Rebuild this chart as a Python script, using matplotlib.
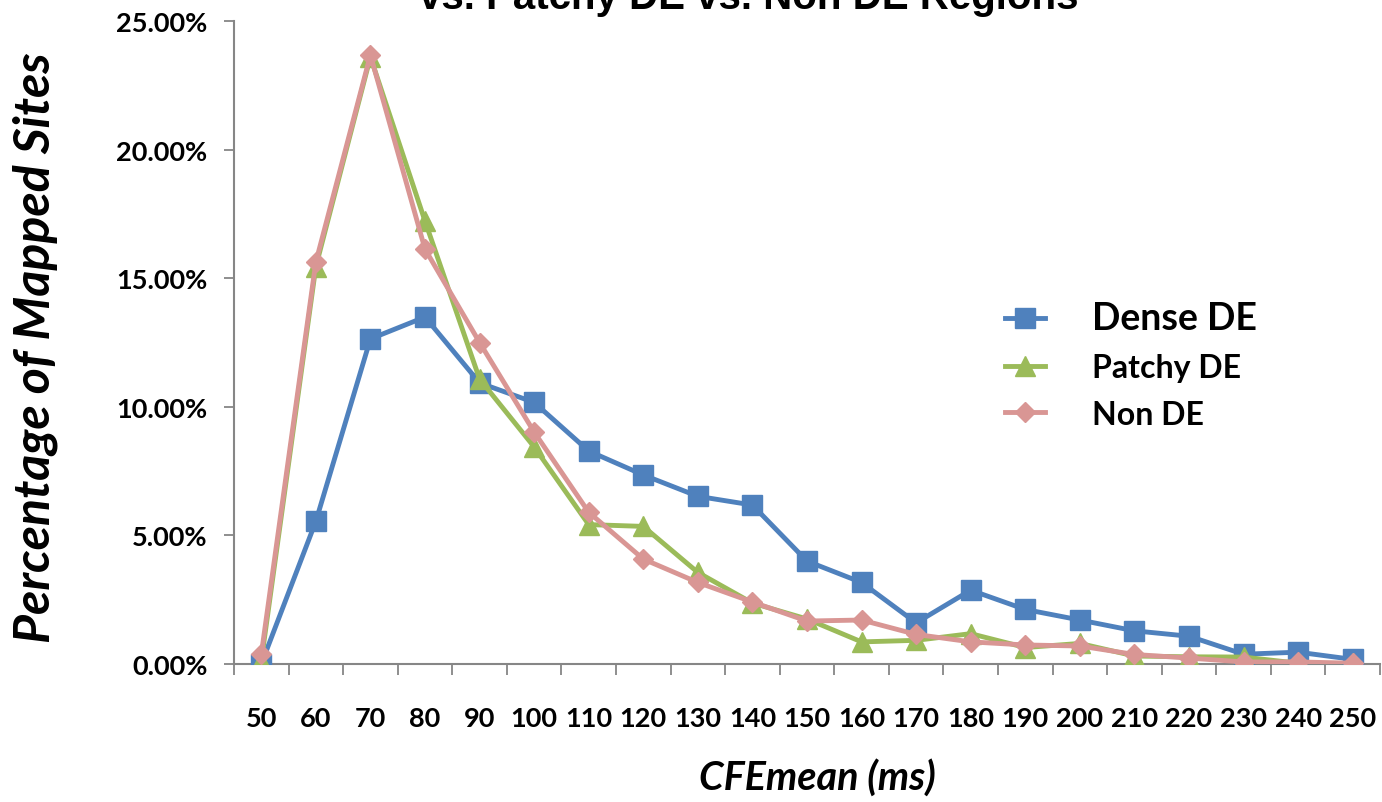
import numpy as np
import matplotlib
matplotlib.use("Agg")
import matplotlib.pyplot as plt
from matplotlib.ticker import FuncFormatter, FixedLocator

plt.rcParams['font.family'] = ['Lato', 'DejaVu Sans']

# CFEmean categories (ms)
categories = ['50', '60', '70', '80', '90', '100', '110', '120', '130', '140', '150',
              '160', '170', '180', '190', '200', '210', '220', '230', '240', '250']

# percentage of mapped sites (%)
dense_de = [0.0, 5.55, 12.64, 13.49, 10.93, 10.17, 8.28, 7.35, 6.52, 6.18, 4.0,
            3.17, 1.6, 2.87, 2.12, 1.71, 1.29, 1.08, 0.38, 0.46, 0.18]
patchy_de = [0.12, 15.45, 23.6, 17.22, 11.08, 8.44, 5.42, 5.35, 3.56, 2.37, 1.75,
             0.86, 0.92, 1.18, 0.64, 0.8, 0.31, 0.28, 0.27, 0.03, 0.02]
non_de = [0.37, 15.63, 23.68, 16.13, 12.5, 9.02, 5.9, 4.08, 3.17, 2.41, 1.67,
          1.71, 1.15, 0.86, 0.74, 0.7, 0.37, 0.23, 0.08, 0.08, 0.03]

x = np.arange(len(categories))

fig = plt.figure(figsize=(13.82, 8.03), dpi=100)
ax = fig.add_axes([234 / 1382, 1 - 665 / 803, 1146 / 1382, 643 / 803])

ax.plot(x, dense_de, color='#4F81BD', lw=3.5, marker='s', ms=14, label='Dense DE', zorder=3)
ax.plot(x, patchy_de, color='#9BBB59', lw=3.5, marker='^', ms=14, label='Patchy DE', zorder=4)
ax.plot(x, non_de, color='#D99694', lw=3.5, marker='D', ms=10.5, label='Non DE', zorder=5)

ax.set_xlim(-0.5, len(categories) - 0.5)
ax.set_ylim(0, 25)
ax.set_yticks([0, 5, 10, 15, 20, 25])
ax.yaxis.set_major_formatter(FuncFormatter(lambda v, p: '%.2f%%' % v))

ax.set_xticks(x)
ax.set_xticklabels(categories)
ax.xaxis.set_minor_locator(FixedLocator(np.arange(-0.5, len(categories), 1.0)))
ax.tick_params(axis='x', which='major', length=0, pad=30, labelsize=19.5)
ax.tick_params(axis='x', which='minor', length=8, width=1.3, color='#868686', direction='out')
ax.tick_params(axis='y', which='major', length=7, width=1.3, color='#868686', labelsize=19.5, pad=12)
for lab in ax.get_xticklabels() + ax.get_yticklabels():
    lab.set_fontweight('bold')

for s in ['top', 'right']:
    ax.spines[s].set_visible(False)
for s in ['left', 'bottom']:
    ax.spines[s].set_color('#868686')
    ax.spines[s].set_linewidth(1.5)

fig.text(35 / 1382, 1 - 348 / 803, 'Percentage of Mapped Sites', rotation=90,
         ha='center', va='center', fontsize=36, fontweight='bold', fontstyle='italic')
fig.text(817 / 1382, 1 - 778 / 803, 'CFEmean (ms)', ha='center', va='center',
         fontsize=28.5, fontweight='bold', fontstyle='italic')
fig.text(749 / 1382, 1 - 9 / 803, 'vs. Patchy DE vs. Non DE Regions', ha='center',
         va='baseline', fontsize=29, fontweight='bold', family='Liberation Sans')

leg = ax.legend(loc='center left', bbox_to_anchor=(0.673, 0.465), frameon=False,
                fontsize=23, handlelength=1.25, labelspacing=0.55, handletextpad=1.45,
                borderpad=0, borderaxespad=0)
for t in leg.get_texts():
    t.set_fontweight('bold')
leg.get_texts()[0].set_fontsize(27)

fig.savefig('out.png', dpi=100)
